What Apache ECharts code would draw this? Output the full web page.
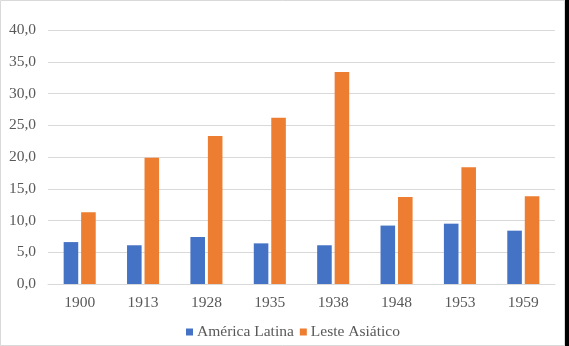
<!DOCTYPE html>
<html><head><meta charset="utf-8">
<script src="https://cdn.jsdelivr.net/npm/echarts@6/dist/echarts.min.js"></script>
<style>html,body{margin:0;padding:0;background:#fff}#c{width:569px;height:346px}</style>
</head><body><div id="c"></div>
<script>
const categories = ['1900','1913','1928','1935','1938','1948','1953','1959'];
const americaLatina = [6.6, 6.1, 7.4, 6.4, 6.1, 9.2, 9.5, 8.4];
const lesteAsiatico = [11.3, 19.9, 23.3, 26.2, 33.4, 13.7, 18.4, 13.8];
const seriesNames = ['América Latina', 'Leste Asiático'];
const font = '"Liberation Serif", "DejaVu Serif", serif';
const chart = echarts.init(document.getElementById('c'), null, {renderer:'canvas'});
chart.setOption({
  animation:false,
  backgroundColor:'#fff',
  graphic:[
    {type:'rect', shape:{x:0.5,y:0.5,width:564,height:345}, style:{fill:'none', stroke:'#d9d9d9', lineWidth:1}, z:-1},
    {type:'rect', shape:{x:565,y:0,width:4,height:346}, style:{fill:'#000'}}
  ],
  grid:{left:48, right:14, top:30, bottom:62},
  legend:{
    data:seriesNames, top:324, left:186, padding:0,
    icon:'rect', itemWidth:7, itemHeight:7, itemGap:6,
    textStyle:{fontFamily:font, fontSize:15.5, color:'#595959', padding:[0,0,0,-1]}
  },
  xAxis:{
    type:'category', data:categories,
    axisLine:{lineStyle:{color:'#d9d9d9'}}, axisTick:{show:false},
    axisLabel:{fontFamily:font, fontSize:15.5, color:'#595959', margin:11}
  },
  yAxis:{
    type:'value', min:0, max:40, interval:5,
    axisLine:{show:false}, axisTick:{show:false},
    splitLine:{lineStyle:{color:'#d9d9d9'}},
    axisLabel:{fontFamily:font, fontSize:15.5, color:'#595959', margin:12,
      formatter:v=>v.toFixed(1).replace('.',',')}
  },
  series:[
    {name:seriesNames[0], type:'bar', data:americaLatina, barWidth:'23%', barGap:'20%', itemStyle:{color:'#4472c4'}},
    {name:seriesNames[1], type:'bar', data:lesteAsiatico, barWidth:'23%', barGap:'20%', itemStyle:{color:'#ed7d31'}}
  ]
});
</script></body></html>
